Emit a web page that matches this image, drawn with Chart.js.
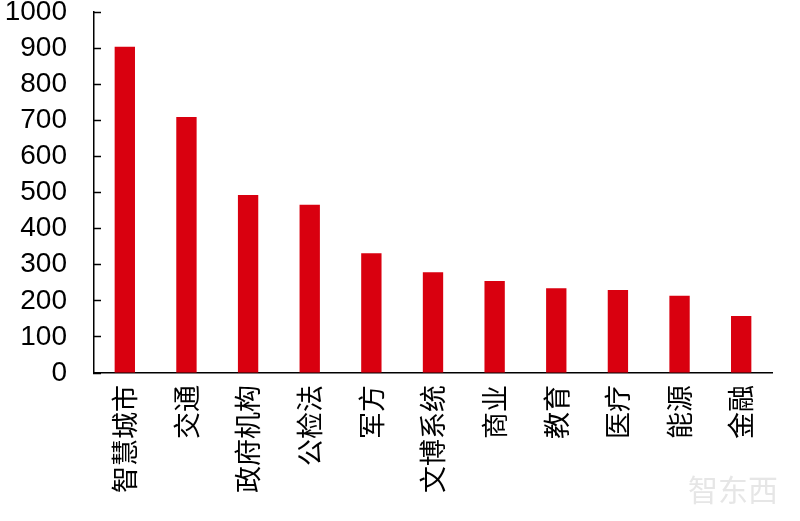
<!DOCTYPE html>
<html>
<head>
<meta charset="utf-8">
<script src="https://cdn.jsdelivr.net/npm/chart.js@4"></script>
<style>
  body { margin: 0; background: #fff; }
  #wrap { position: relative; width: 800px; height: 521px; }
  #mark {
    position: absolute; left: 688px; top: 466px;
    font: 30px "Noto Sans CJK SC", sans-serif;
    color: #e6e6e6;
  }
</style>
</head>
<body>
<div id="wrap">
  <canvas id="c" width="800" height="521"></canvas>
  <div id="mark">智东西</div>
</div>
<script>
// categories and values
const categories = ['智慧城市', '交通', '政府机构', '公检法', '军方', '文博系统', '商业', '教育', '医疗', '能源', '金融'];
const counts = [904, 709, 493, 466, 332, 279, 255, 235, 230, 214, 158];
const yTicks = [0, 100, 200, 300, 400, 500, 600, 700, 800, 900, 1000];

const BAR_RED = '#d9000f';

const ctx = document.getElementById('c').getContext('2d');

new Chart(ctx, {
  type: 'bar',
  data: {
    labels: categories,
    datasets: [{
      data: counts,
      backgroundColor: BAR_RED,
      borderWidth: 0,
      categoryPercentage: 1,
      barPercentage: 0.33
    }]
  },
  options: {
    responsive: false,
    animation: false,
    layout: { padding: { top: 0, right: 28, bottom: 0, left: 0 } },
    plugins: {
      legend: { display: false },
      tooltip: { enabled: false }
    },
    scales: {
      x: {
        grid: { display: false, drawTicks: false },
        border: { display: true, color: '#000', width: 1.5 },
        ticks: {
          color: '#000',
          padding: 12,
          autoSkip: false,
          minRotation: 90,
          maxRotation: 90,
          font: { family: '"Noto Sans CJK SC", sans-serif', size: 27, lineHeight: 1 }
        },
        afterFit: scale => { scale.height = 148; }
      },
      y: {
        min: 0,
        max: 1000,
        afterBuildTicks: scale => { scale.ticks = yTicks.map(v => ({ value: v })); },
        grid: {
          drawOnChartArea: false,
          drawTicks: true,
          tickLength: -7,
          tickColor: '#000',
          tickWidth: 1.5
        },
        border: { display: true, color: '#000', width: 1.5 },
        ticks: {
          color: '#000',
          padding: 34,
          callback: v => String(v),
          font: { family: '"Liberation Sans", Arial, sans-serif', size: 28, lineHeight: 1 }
        },
        afterFit: scale => {
          scale.width = 94;
          // tick padding is large only to push labels left; keep it out of the top gap
          scale.paddingTop = 12;
          scale.paddingBottom = 12;
        }
      }
    }
  }
});
</script>
</body>
</html>
